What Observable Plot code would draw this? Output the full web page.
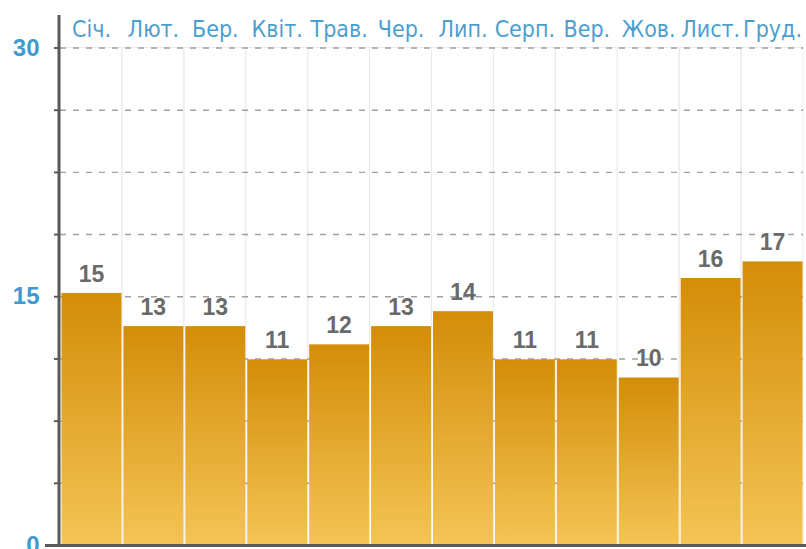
<!DOCTYPE html>
<html>
<head>
<meta charset="utf-8">
<script src="https://cdn.jsdelivr.net/npm/d3@7"></script>
<script src="https://cdn.jsdelivr.net/npm/@observablehq/plot@0.6"></script>
<style>
  html, body { margin: 0; padding: 0; background: #fff; }
  #chart svg { display: block; }
</style>
</head>
<body>
<div id="chart"></div>
<script>
const months = ["Січ.", "Лют.", "Бер.", "Квіт.", "Трав.", "Чер.", "Лип.", "Серп.", "Вер.", "Жов.", "Лист.", "Груд."];
const values = [15.2, 13.2, 13.2, 11.2, 12.1, 13.2, 14.1, 11.2, 11.2, 10.1, 16.1, 17.1];
const yLabelTicks = [0, 15, 30];
const yMinorTicks = [0, 3.75, 7.5, 11.25, 15, 18.75, 22.5, 26.25, 30];

const data = months.map((m, i) => ({month: m, value: values[i]}));

const gradientDefs = () => {
  const defs = d3.create("svg:defs");
  const g = defs.append("linearGradient").attr("id", "barGrad")
    .attr("x1", 0).attr("y1", 0).attr("x2", 0).attr("y2", 1);
  g.append("stop").attr("offset", "0%").attr("stop-color", "#d38d08");
  g.append("stop").attr("offset", "100%").attr("stop-color", "#f4c455");
  return defs.node();
};

const axisLines = (index, scales, values, dims) => {
  const g = d3.create("svg:g");
  const y0 = scales.y(0);
  g.append("line").attr("x1", dims.marginLeft - 1).attr("x2", dims.marginLeft - 1)
    .attr("y1", 15).attr("y2", y0 + 2)
    .attr("stroke", "#5a5a5a").attr("stroke-width", 3);
  g.append("line").attr("x1", 45).attr("x2", dims.width)
    .attr("y1", y0 + 0.5).attr("y2", y0 + 0.5)
    .attr("stroke", "#5a5a5a").attr("stroke-width", 3);
  return g.node();
};

const chart = Plot.plot({
  width: 806,
  height: 549,
  marginLeft: 60,
  marginRight: 3,
  marginTop: 47.5,
  marginBottom: 4,
  style: {fontFamily: "'DejaVu Sans Condensed', 'DejaVu Sans', sans-serif", background: "#fff", overflow: "visible"},
  x: {type: "band", domain: months, padding: 0, round: false},
  y: {domain: [0, 30]},
  marks: [
    gradientDefs,
    Plot.barY(months, {x: d => d, y1: 0, y2: 30, fill: "none", stroke: "#ebebeb", strokeWidth: 1}),
    Plot.ruleY(yMinorTicks.filter(d => d > 0), {stroke: "#a0a0a0", strokeWidth: 1.4, strokeDasharray: "6,7"}),
    Plot.barY(data, {x: "month", y: "value", fill: "url(#barGrad)", insetLeft: 1.5, insetRight: 0.5}),
    Plot.text(data, {x: "month", y: "value", text: d => d3.format(".0f")(d.value), dy: -19,
      fill: "#6a6a6a", fontWeight: "bold", fontSize: 23, fontFamily: "'Liberation Sans', Arial, sans-serif"}),
    Plot.axisX({anchor: "top", tickSize: 0, tickPadding: 11, fontSize: 23, fill: "#4b9fd0", label: null}),
    Plot.axisY({ticks: yMinorTicks, tickFormat: () => "", tickSize: 6, stroke: "#5a5a5a", strokeWidth: 2, label: null}),
    Plot.axisY({ticks: yLabelTicks, tickSize: 0, tickPadding: 21, fontSize: 24, fontWeight: "bold",
      fill: "#3d9bd1", fontFamily: "'Liberation Sans', Arial, sans-serif", label: null}),
    axisLines
  ]
});

document.getElementById("chart").appendChild(chart);
</script>
</body>
</html>
